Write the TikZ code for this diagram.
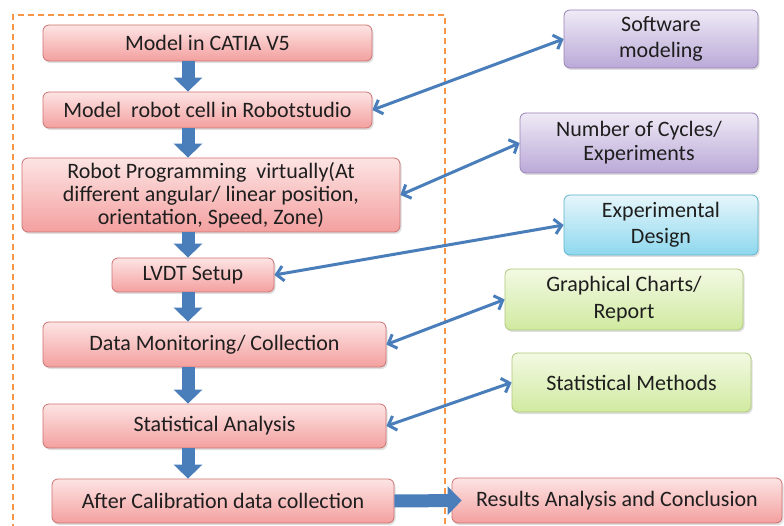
\documentclass[tikz,border=0pt]{standalone}
\usepackage{fontspec}
\setmainfont{Carlito}
\usetikzlibrary{arrows.meta,shadows,calc}
\definecolor{pinkT}{HTML}{FDE4E4}
\definecolor{pinkB}{HTML}{F3A09F}
\definecolor{pinkD}{HTML}{C0504D}
\definecolor{purT}{HTML}{EFEAF6}
\definecolor{purB}{HTML}{BAA9D8}
\definecolor{purD}{HTML}{8064A2}
\definecolor{cyaT}{HTML}{E6F6FB}
\definecolor{cyaB}{HTML}{8ED8EE}
\definecolor{cyaD}{HTML}{4BACC6}
\definecolor{grnT}{HTML}{F3F9E3}
\definecolor{grnB}{HTML}{D0EAA0}
\definecolor{grnD}{HTML}{9BBB59}
\definecolor{arrB}{HTML}{4A7EBB}
\definecolor{orng}{HTML}{F79646}
\definecolor{txt}{HTML}{1E1E1E}
\tikzset{
  basebox/.style={rounded corners=6pt, align=center, text=txt, line width=0.8pt,
    font=\fontsize{22}{25}\selectfont, inner sep=2pt,
    drop shadow={shadow xshift=1.5pt, shadow yshift=-2pt, opacity=0.25}},
  pinkbox/.style={basebox, draw=pinkD!80, top color=pinkT, bottom color=pinkB},
  purbox/.style={basebox, draw=purD!80, top color=purT, bottom color=purB, font=\fontsize{22}{26.5}\selectfont},
  cyabox/.style={basebox, draw=cyaD!90, top color=cyaT, bottom color=cyaB, font=\fontsize{22}{26}\selectfont},
  grnbox/.style={basebox, draw=grnD!80, top color=grnT, bottom color=grnB, font=\fontsize{22}{27}\selectfont},
  blkarrow/.style={draw=arrB, line width=13pt, -{Triangle[length=14pt 0 0, width=28pt 0 0]}},
  dblarrow/.style={draw=arrB, line width=3pt, {Straight Barb[length=7pt 0 0, width=15pt 0 0]}-{Straight Barb[length=7pt 0 0, width=15pt 0 0]}},
  frame/.style={draw=orng, line width=1.8pt, dash pattern=on 6pt off 4pt}
}
\begin{document}
\begin{tikzpicture}[x=1pt,y=-1pt]
\useasboundingbox (0,0) rectangle (784,526);
\fill[white] (0,0) rectangle (784,526);
% dashed frame
\draw[frame] (13,530) -- (13,15) -- (445,15) -- (445,530);
% left column
\node[pinkbox, minimum width=329pt, minimum height=36pt] (b1) at (207.5,43) {Model in CATIA V5};
\node[pinkbox, minimum width=329pt, minimum height=36pt] (b2) at (207.5,110) {Model\ \ robot cell in Robotstudio};
\node[pinkbox, minimum width=378pt, minimum height=74pt, font=\fontsize{22}{23}\selectfont] (b3) at (211,195) {Robot Programming\ \ virtually(At\\different angular/ linear position,\\orientation, Speed, Zone)};
\node[pinkbox, minimum width=162pt, minimum height=34pt] (b4) at (193,275) {LVDT Setup};
\node[pinkbox, minimum width=343pt, minimum height=45pt] (b5) at (214.5,344.5) {Data Monitoring/ Collection};
\node[pinkbox, minimum width=343pt, minimum height=44pt] (b6) at (214.5,426) {Statistical Analysis};
\node[pinkbox, minimum width=342pt, minimum height=44pt] (b7) at (223,501) {After Calibration data collection};
\node[pinkbox, minimum width=330pt, minimum height=45pt] (res) at (617,500.5) {Results Analysis and Conclusion};
% right column
\node[purbox, minimum width=194pt, minimum height=58pt] (sw) at (661,39) {Software\\modeling};
\node[purbox, minimum width=238pt, minimum height=60pt, font=\fontsize{22}{24}\selectfont] (cy) at (639,143) {Number of Cycles/\\Experiments};
\node[cyabox, minimum width=194pt, minimum height=60pt] (ed) at (661,225) {Experimental\\Design};
\node[grnbox, minimum width=238pt, minimum height=61pt] (gr) at (624,299.5) {Graphical Charts/\\Report};
\node[grnbox, minimum width=239pt, minimum height=59pt] (sm) at (631.5,382.5) {Statistical Methods};
% block arrows
\coordinate (ax) at (188,0);
\draw[blkarrow] (b1.south -| ax) -- (b2.north -| ax);
\draw[blkarrow] (b2.south -| ax) -- (b3.north -| ax);
\draw[blkarrow] (b3.south -| ax) -- (b4.north -| ax);
\draw[blkarrow] (b4.south -| ax) -- (b5.north -| ax);
\draw[blkarrow] (b5.south -| ax) -- (b6.north -| ax);
\draw[blkarrow] (b6.south -| ax) -- (b7.north -| ax);
\draw[blkarrow] (b7.east) -- ($(res.west)+(10,0)$);
% double arrows
\draw[dblarrow] (b2.east) -- (sw.west);
\draw[dblarrow] (b3.east) -- (cy.west);
\draw[dblarrow] (b4.east) -- (ed.west);
\draw[dblarrow] (b5.east) -- (gr.west);
\draw[dblarrow] (b6.east) -- (sm.west);
\end{tikzpicture}
\end{document}
